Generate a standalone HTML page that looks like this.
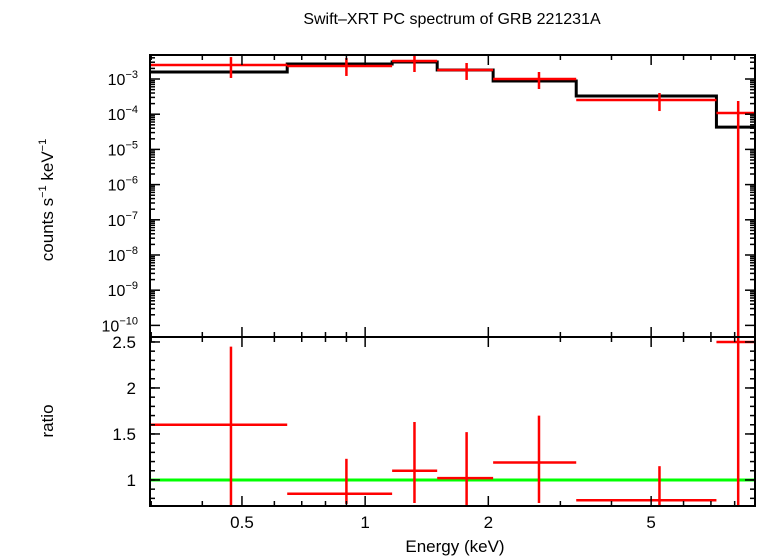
<!DOCTYPE html>
<html><head><meta charset="utf-8"><style>
body{margin:0;background:#fff;}
svg{display:block;font-family:"Liberation Sans",sans-serif;}
</style></head><body>
<svg id="chart" width="758" height="556" viewBox="0 0 758 556" xmlns="http://www.w3.org/2000/svg">
<text x="452" y="24" font-size="16" text-anchor="middle">Swift–XRT PC spectrum of GRB 221231A</text>
<g id="topPanel"></g>
<g id="botPanel"></g>
<text transform="translate(53,200) rotate(-90)" font-size="17" text-anchor="middle">counts s<tspan font-size="11" dy="-7">−1</tspan><tspan dy="7"> keV</tspan><tspan font-size="11" dy="-7">−1</tspan></text>
<text transform="translate(53,421) rotate(-90)" font-size="17" text-anchor="middle">ratio</text>
<text x="455" y="552" font-size="17" text-anchor="middle">Energy (keV)</text>
</svg>
<script>
const binLo=[0.298,0.645,1.164,1.50,2.055,3.28,7.22];
const binHi=[0.645,1.164,1.50,2.055,3.28,7.22,8.97];
const binCenter=[0.47,0.90,1.32,1.77,2.66,5.24,8.16];
const dataRate=[2.5e-3,2.34e-3,3.24e-3,1.8e-3,1.0e-3,2.53e-4,1.08e-4];
const dataHi=[4.2e-3,3.95e-3,5.1e-3,2.85e-3,1.58e-3,4.0e-4,2.37e-4];
const dataLo=[1.07e-3,1.22e-3,1.58e-3,9.4e-4,5.2e-4,1.23e-4,1e-12];
const modelRate=[1.58e-3,2.67e-3,3.04e-3,1.8e-3,8.8e-4,3.29e-4,4.3e-5];
const ratioVal=[1.6,0.85,1.1,1.02,1.19,0.78,2.5];
const ratioLo=[0.6,0.74,0.75,0.70,0.75,0.72,0.0];
const ratioHi=[2.45,1.23,1.63,1.52,1.70,1.15,5.0];
const xTicks=[0.5,1,2,5];
const xTickLabels=["0.5","1","2","5"];
const yExp=[-3,-4,-5,-6,-7,-8,-9,-10];
const rTicks=[1,1.5,2,2.5];
const rTickLabels=["1","1.5","2","2.5"];

const NS="http://www.w3.org/2000/svg";
const L=150,R=755,T=55,M=337,B=506;
const xMin=0.298,xMax=8.97;
const x=v=>L+(Math.log10(v)-Math.log10(xMin))/(Math.log10(xMax)-Math.log10(xMin))*(R-L);
const yTopLog=-2.318,yBotLog=-10.33;
const y=v=>T+(yTopLog-Math.log10(v))/(yTopLog-yBotLog)*(M-T);
const rTop=2.554,rBot=0.717;
const yr=v=>M+(rTop-v)/(rTop-rBot)*(B-M);
function el(p,tag,a){const e=document.createElementNS(NS,tag);for(const k in a)e.setAttribute(k,a[k]);p.appendChild(e);return e;}
const svgEl=document.getElementById('chart');
const topG=document.getElementById('topPanel'),botG=document.getElementById('botPanel');
const defs=el(svgEl,'defs',{});
const c1=el(defs,'clipPath',{id:'ct'});el(c1,'rect',{x:L,y:T,width:R-L,height:M-T});
const c2=el(defs,'clipPath',{id:'cb'});el(c2,'rect',{x:L,y:M,width:R-L,height:B-M});
const gt=el(topG,'g',{'clip-path':'url(#ct)'});
const gb=el(botG,'g',{'clip-path':'url(#cb)'});

let d='';
for(let i=0;i<binLo.length;i++){d+=(i?'L':'M')+x(binLo[i])+' '+y(modelRate[i])+'L'+x(binHi[i])+' '+y(modelRate[i]);}
const m=el(gt,'path',{d:d,fill:'none',stroke:'#000','stroke-width':3});


for(let i=0;i<binLo.length;i++){
 const g=el(gt,'g',{stroke:'#f00','stroke-width':2.5});
 
 
 el(g,'line',{x1:x(binLo[i]),x2:x(binHi[i]),y1:y(dataRate[i]),y2:y(dataRate[i])});
 el(g,'line',{x1:x(binCenter[i]),x2:x(binCenter[i]),y1:y(dataHi[i]),y2:y(dataLo[i])});
}
const gl=el(gb,'line',{x1:L,x2:R,y1:yr(1),y2:yr(1),stroke:'#0f0','stroke-width':3});


for(let i=0;i<binLo.length;i++){
 const g=el(gb,'g',{stroke:'#f00','stroke-width':2.5});
 
 
 el(g,'line',{x1:x(binLo[i]),x2:x(binHi[i]),y1:yr(ratioVal[i]),y2:yr(ratioVal[i])});
 el(g,'line',{x1:x(binCenter[i]),x2:x(binCenter[i]),y1:yr(ratioHi[i]),y2:yr(ratioLo[i])});
}
el(topG,'rect',{x:L,y:T,width:R-L,height:M-T,fill:'none',stroke:'#000','stroke-width':2});
el(botG,'rect',{x:L,y:M,width:R-L,height:B-M,fill:'none',stroke:'#000','stroke-width':2});
const axg=el(svgEl,'g',{stroke:'#000','stroke-width':1.5});


for(let dec=0.1;dec<20;dec*=10)for(let k=1;k<10;k++){const v=k*dec;if(v<xMin||v>xMax)continue;
 const major=xTicks.includes(+v.toFixed(3));const len=major?10:5;const xx=x(v);
 el(axg,'line',{x1:xx,x2:xx,y1:B,y2:B-len});el(axg,'line',{x1:xx,x2:xx,y1:M,y2:M-len});
 el(axg,'line',{x1:xx,x2:xx,y1:M,y2:M+len});el(axg,'line',{x1:xx,x2:xx,y1:T,y2:T+len});}
xTicks.forEach((v,i)=>{const t=el(svgEl,'text',{x:x(v),y:528,'font-size':17,'text-anchor':'middle'});t.textContent=xTickLabels[i];
 });
yExp.forEach(e=>{const yy=y(Math.pow(10,e));
 el(axg,'line',{x1:L,x2:L+10,y1:yy,y2:yy});el(axg,'line',{x1:R,x2:R-10,y1:yy,y2:yy});
 for(let k=2;k<10;k++){const y2=y(k*Math.pow(10,e));if(y2<T)continue;el(axg,'line',{x1:L,x2:L+5,y1:y2,y2:y2});el(axg,'line',{x1:R,x2:R-5,y1:y2,y2:y2});}
 const t=el(svgEl,'text',{x:138,y:yy+6,'font-size':16,'text-anchor':'end'});
 
 t.innerHTML='10<tspan font-size="11" dy="-7">'+(e<0?'−':'')+Math.abs(e)+'</tspan>';});
rTicks.forEach((v,i)=>{const yy=yr(v);el(axg,'line',{x1:L,x2:L+10,y1:yy,y2:yy});el(axg,'line',{x1:R,x2:R-10,y1:yy,y2:yy});
 const t=el(svgEl,'text',{x:136,y:yy+6,'font-size':17,'text-anchor':'end'});t.textContent=rTickLabels[i];
 });
for(let v=0.8;v<2.55;v+=0.1){const yy=yr(v);el(axg,'line',{x1:L,x2:L+5,y1:yy,y2:yy});el(axg,'line',{x1:R,x2:R-5,y1:yy,y2:yy});}
</script>
</body></html>
